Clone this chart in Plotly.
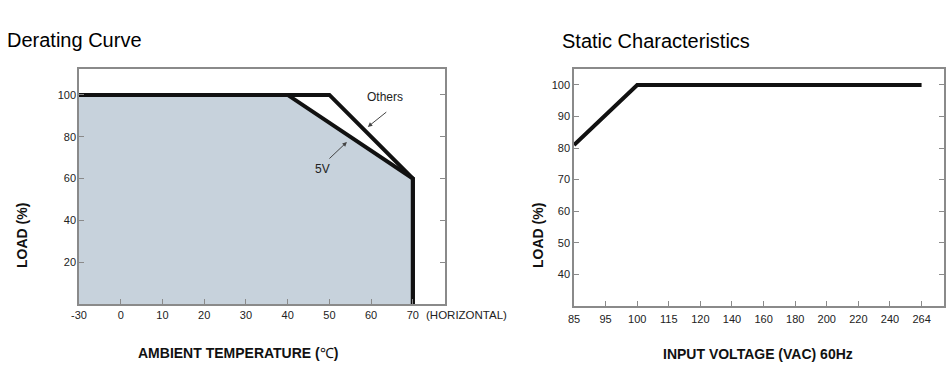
import numpy as np
import plotly.graph_objects as go

W, H = 950, 366

# ---------------- data ----------------
# Derating curve (ambient temperature in degC vs load %)
temp_ticks = [-30, 0, 10, 20, 30, 40, 50, 60, 70]
load_ticks_left = [20, 40, 60, 80, 100]
temp_others = [-30, 50, 70, 70]
load_others = [100, 100, 60, 0]
temp_5v = [-30, 40, 70, 70]
load_5v = [100, 100, 60, 0]

# Static characteristics (input voltage VAC vs load %)
volt_ticks = [85, 95, 100, 115, 120, 140, 160, 180, 200, 220, 240, 264]
load_ticks_right = [40, 50, 60, 70, 80, 90, 100]
volt_line = [85, 100, 264]
load_line = [81, 100, 100]

# ------------- axis scales (non-uniform tick spacing) -------------
temp_pos_ticks = [-10, 0, 10, 20, 30, 40, 50, 60, 70]
volt_pos_ticks = list(range(len(volt_ticks)))


def temp_pos(t):
    return np.interp(t, temp_ticks, temp_pos_ticks)


def volt_pos(v):
    return np.interp(v, volt_ticks, volt_pos_ticks)


def px(x):
    return x / W


def py(y):
    return 1 - y / H


FONT = "Liberation Sans, Arial, sans-serif"
FILL = "#c7d2dc"
AXC = "#8a8a8a"

fig = go.Figure()

# filled area under 5V curve
fx = temp_pos(np.array([temp_5v[0]] + temp_5v))
fy = [0] + load_5v
fig.add_trace(go.Scatter(x=fx, y=fy, fill="toself", fillcolor=FILL, mode="none",
                         hoverinfo="skip", xaxis="x", yaxis="y"))
fig.add_trace(go.Scatter(x=temp_pos(np.array(temp_others)), y=load_others, mode="lines",
                         line=dict(color="#111", width=4), xaxis="x", yaxis="y"))
fig.add_trace(go.Scatter(x=temp_pos(np.array(temp_5v)), y=load_5v, mode="lines",
                         line=dict(color="#111", width=4), xaxis="x", yaxis="y"))

fig.add_trace(go.Scatter(x=volt_pos(np.array(volt_line)), y=load_line, mode="lines",
                         line=dict(color="#111", width=4), xaxis="x2", yaxis="y2"))

tickfont = dict(family=FONT, size=11, color="#222")
common = dict(showgrid=False, zeroline=False, ticks="inside", ticklen=5, tickcolor=AXC,
              tickwidth=1, linecolor=AXC, linewidth=1.5, showline=True, tickfont=tickfont,
              automargin=False)

fig.update_layout(
    width=W, height=H, margin=dict(l=0, r=0, t=0, b=0, autoexpand=False),
    paper_bgcolor="white", plot_bgcolor="white", showlegend=False,
    xaxis=dict(domain=[px(79), px(445)], range=[-10, 77.7], anchor="y",
               tickvals=temp_pos_ticks, ticktext=[str(t) for t in temp_ticks],
               mirror=True, **common),
    yaxis=dict(domain=[py(304), py(69)], range=[0, 112.4], anchor="x",
               tickvals=load_ticks_left, ticktext=[str(v) for v in load_ticks_left],
               mirror="ticks", ticklabelstandoff=-1, **common),
    xaxis2=dict(domain=[px(574), px(944)], range=[0, 11.71], anchor="y2",
                tickvals=volt_pos_ticks, ticktext=[str(v) for v in volt_ticks],
                mirror=True, ticklabelstandoff=3, **common),
    yaxis2=dict(domain=[py(305.5), py(69)], range=[30.1, 105.07], anchor="x2",
                tickvals=load_ticks_right, ticktext=[str(v) for v in load_ticks_right],
                mirror="ticks", **common),
)

ann = []


def text(x, y, s, size, bold=False, angle=0, xanchor="center", color="#111"):
    ann.append(dict(x=px(x), y=py(y), xref="paper", yref="paper", text=s, showarrow=False,
                    xanchor=xanchor, yanchor="middle", textangle=angle,
                    font=dict(family=FONT, size=size, color=color)))


text(5, 40, "Derating Curve", 20, xanchor="left", color="#000")
text(560, 41, "Static Characteristics", 20, xanchor="left", color="#000")
text(238, 353, "<b>AMBIENT TEMPERATURE (</b>℃<b>)</b>", 14)
text(758, 354, "<b>INPUT VOLTAGE (VAC) 60Hz</b>", 14)
text(22, 236, "<b>LOAD (%)</b>", 14, angle=-90)
text(538, 236, "<b>LOAD (%)</b>", 14, angle=-90)
text(424, 315, "(HORIZONTAL)", 11.5, xanchor="left", color="#222")
text(385, 97, "Others", 12, color="#222")
text(322, 169, "5V", 12, color="#222")

# arrows pointing at the curves
ann.append(dict(x=59.2, y=84.7, xref="x", yref="y", ax=20, ay=-16, showarrow=True,
                arrowhead=2, arrowsize=0.9, arrowwidth=1, arrowcolor="#444", text=""))
ann.append(dict(x=54.2, y=77.5, xref="x", yref="y", ax=-19, ay=18, showarrow=True,
                arrowhead=2, arrowsize=0.9, arrowwidth=1, arrowcolor="#444", text=""))

fig.update_layout(annotations=ann)
fig.write_html("out.html")
